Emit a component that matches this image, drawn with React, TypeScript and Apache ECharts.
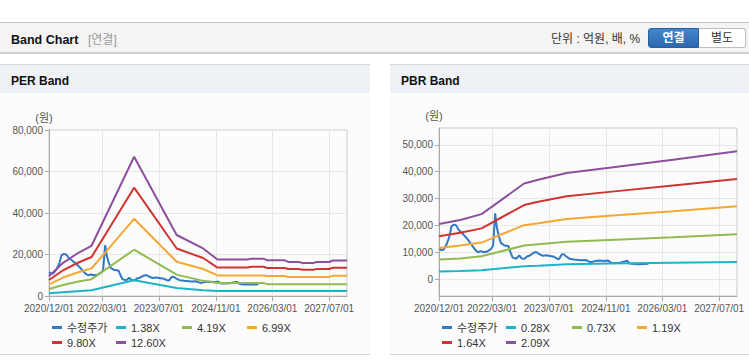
import React, { useEffect, useRef } from 'react';
import * as echarts from 'echarts';

const FONT = '"Liberation Sans", Arial, "Noto Sans CJK KR", sans-serif';

// x axis
const X_MIN = '2020/12/01';
const X_MAX = '2027/12/01';
const X_LABELS = ['2020/12/01', '2022/03/01', '2023/07/01', '2024/11/01', '2026/03/01', '2027/07/01'];

// adjusted price (shared by both charts)
const PRICE_NAME = '수정주가';
const PRICE_DATES = [
  '2020-12-03', '2020-12-20', '2021-01-10', '2021-02-05', '2021-03-01', '2021-03-18', '2021-04-07', '2021-04-28',
  '2021-05-20', '2021-06-20', '2021-07-15', '2021-08-15', '2021-09-15', '2021-10-10', '2021-11-01', '2021-11-25',
  '2021-12-20', '2022-01-20', '2022-02-20', '2022-03-10', '2022-03-28', '2022-04-10', '2022-04-25', '2022-05-15',
  '2022-06-15', '2022-07-20', '2022-08-10', '2022-08-25', '2022-09-25', '2022-10-20', '2022-11-10', '2022-12-05',
  '2022-12-25', '2023-01-20', '2023-02-20', '2023-03-15', '2023-04-10', '2023-05-10', '2023-06-10', '2023-07-15',
  '2023-08-15', '2023-09-10', '2023-09-25', '2023-10-20', '2023-11-05', '2023-11-25', '2023-12-25', '2024-02-01',
  '2024-04-01', '2024-05-15', '2024-06-20', '2024-08-01', '2024-09-10', '2024-10-15', '2024-11-20', '2024-12-20',
  '2025-01-20', '2025-03-01', '2025-04-10', '2025-05-01', '2025-05-25', '2025-07-01', '2025-08-15', '2025-10-01',
  '2025-11-01',
];
const PRICE = [
  11600, 10700, 11000, 13000, 16000, 19600, 20300, 20000,
  18300, 17000, 15800, 14200, 12300, 10800, 10000, 10400,
  10000, 10300, 11200, 12500, 24500, 19500, 16500, 13500,
  12500, 12300, 9500, 8000, 7600, 8800, 7700, 7600,
  8400, 8800, 9800, 10100, 9300, 8700, 8900, 8600,
  8300, 7600, 7400, 9200, 9300, 8500, 7600, 7300,
  7000, 7100, 6300, 6700, 6900, 6700, 6900, 6000,
  6000, 6100, 6600, 6800, 5800, 5600, 5500, 5600,
  5700,
];

// PER band
const PER_NAMES = ['1.38X', '4.19X', '6.99X', '9.80X', '12.60X'];
const PER_DATES = [
  '2020-12-01', '2021-04-01', '2021-08-01', '2021-12-01', '2022-12-01', '2023-12-01', '2024-07-15',
  '2024-11-15', '2025-08-01', '2025-09-01', '2025-12-15', '2026-01-15', '2026-06-15', '2026-07-15',
  '2026-10-15', '2026-11-15', '2027-02-15', '2027-03-15', '2027-07-01', '2027-08-01', '2027-12-01',
];
const PER_1_38 = [1300, 1800, 2300, 2800, 7600, 3900, 2800, 2400, 2400, 2400, 2400, 2400, 2400, 2400, 2400, 2400, 2400, 2400, 2400, 2400, 2400];
const PER_4_19 = [3400, 5300, 6900, 8100, 22300, 10300, 7300, 6300, 6300, 6300, 6300, 5700, 5700, 5700, 5700, 5700, 5700, 5700, 5700, 5700, 5700];
const PER_6_99 = [5600, 8900, 11300, 13300, 37200, 16500, 13000, 9900, 9900, 9900, 9900, 9600, 9600, 9200, 9200, 9200, 9200, 9200, 9200, 9700, 9700];
const PER_9_80 = [7700, 12400, 15900, 18800, 52200, 22900, 18300, 13700, 13700, 14100, 14100, 13500, 13500, 13000, 13000, 12600, 12600, 13000, 13000, 13600, 13600];
const PER_12_60 = [9500, 16000, 20500, 24200, 67100, 29400, 22900, 17600, 17600, 18000, 18000, 17200, 17200, 16400, 16400, 15900, 15900, 16400, 16400, 17100, 17100];
const PER_Y_MIN = 0;
const PER_Y_MAX = 80000;
const PER_Y_TICKS = [0, 20000, 40000, 60000, 80000];

// PBR band
const PBR_NAMES = ['0.28X', '0.73X', '1.19X', '1.64X', '2.09X'];
const PBR_DATES = ['2020-12-01', '2021-06-01', '2021-12-01', '2022-12-01', '2023-04-01', '2023-12-01', '2024-12-01', '2026-06-01', '2027-12-01'];
const PBR_0_28 = [2850, 3000, 3300, 4800, 5000, 5500, 5800, 6100, 6400];
const PBR_0_73 = [7300, 7700, 8500, 12500, 13000, 13900, 14600, 15600, 16700];
const PBR_1_19 = [11600, 12500, 13600, 20100, 20800, 22400, 23600, 25300, 27100];
const PBR_1_64 = [16000, 17300, 18900, 27600, 28800, 30900, 32500, 34900, 37300];
const PBR_2_09 = [20500, 22000, 24200, 35600, 37000, 39500, 41500, 44500, 47600];
const PBR_Y_MIN = -6300;
const PBR_Y_MAX = 56300;
const PBR_Y_TICKS = [0, 10000, 20000, 30000, 40000, 50000];

const COLORS = ['#3179c6', '#1db4c9', '#8fbb50', '#f5a735', '#d03430', '#8e4f9e'];

function toTs(s: string): number {
  const [y, m, d] = s.split(/[-/]/).map(Number);
  return Date.UTC(y, m - 1, d);
}
function fmtDate(v: number): string {
  const d = new Date(v);
  const p = (n: number) => String(n).padStart(2, '0');
  return `${d.getUTCFullYear()}/${p(d.getUTCMonth() + 1)}/${p(d.getUTCDate())}`;
}

type Cfg = {
  names: string[];
  dates: string[];
  bands: number[][];
  yMin: number;
  yMax: number;
  yTicks: number[];
  gridTop: number;
  gridRight: number;
};

function buildOption(cfg: Cfg): any {
  const names = [PRICE_NAME, ...cfg.names];
  const cols = [53, 117, 183, 248];
  const legends = names.map((n, i) => ({
    data: [n],
    left: cols[i % 4] - 1,
    top: i < 4 ? 229 : 244,
    padding: 0,
    icon: 'rect',
    itemWidth: 10,
    itemHeight: 3,
    itemGap: 0,
    selectedMode: false,
    textStyle: { fontSize: 11, color: '#333', fontFamily: FONT },
  }));
  const xTicks = X_LABELS.map(toTs);
  const series: any[] = [
    {
      type: 'line',
      name: PRICE_NAME,
      data: PRICE_DATES.map((d, i) => [toTs(d), PRICE[i]]),
      symbol: 'none',
      showSymbol: false,
      lineStyle: { width: 2, color: COLORS[0] },
      itemStyle: { color: COLORS[0] },
      z: 2,
    },
    ...cfg.names.map((n, k) => ({
      type: 'line',
      name: n,
      data: cfg.dates.map((d, i) => [toTs(d), cfg.bands[k][i]]),
      symbol: 'none',
      showSymbol: false,
      lineStyle: { width: 2, color: COLORS[k + 1] },
      itemStyle: { color: COLORS[k + 1] },
      z: 2,
    })),
  ];
  return {
    animation: false,
    backgroundColor: 'transparent',
    textStyle: { fontFamily: FONT },
    legend: legends,
    grid: {
      left: 49,
      right: cfg.gridRight,
      top: cfg.gridTop,
      bottom: 58,
      show: true,
      borderColor: '#c9c9c9',
      borderWidth: 1,
      backgroundColor: 'transparent',
      containLabel: false,
      outerBoundsMode: 'none',
    },
    xAxis: {
      type: 'value',
      min: toTs(X_MIN),
      max: toTs(X_MAX),
      scale: true,
      axisLine: { show: true, onZero: false, lineStyle: { color: '#a9a9a9', width: 1 } },
      axisTick: { show: true, length: 5, lineStyle: { color: '#a9a9a9' }, customValues: xTicks },
      axisLabel: {
        customValues: xTicks,
        formatter: (v: number) => fmtDate(v),
        color: '#555',
        fontSize: 10,
        fontFamily: FONT,
        margin: 7,
        hideOverlap: false,
      },
      splitLine: { show: true, lineStyle: { color: '#e7e7e7', width: 1 } },
      minorTick: { show: false },
    },
    yAxis: {
      type: 'value',
      min: cfg.yMin,
      max: cfg.yMax,
      name: '(원)',
      nameLocation: 'end',
      nameGap: 7,
      nameTextStyle: { color: '#555', fontSize: 11, fontFamily: FONT, padding: [0, 10, 0, 0] },
      axisLine: { show: true, onZero: false, lineStyle: { color: '#a9a9a9', width: 1 } },
      axisTick: { show: true, length: 4, lineStyle: { color: '#a9a9a9' }, customValues: cfg.yTicks },
      axisLabel: {
        customValues: cfg.yTicks,
        formatter: (v: number) => v.toLocaleString('en-US'),
        color: '#555',
        fontSize: 10,
        fontFamily: FONT,
        margin: 6,
      },
      splitLine: { show: true, lineStyle: { color: '#e7e7e7', width: 1 } },
    },
    series,
  };
}

function Chart({ cfg, style }: { cfg: Cfg; style: React.CSSProperties }) {
  const ref = useRef<HTMLDivElement>(null);
  useEffect(() => {
    if (!ref.current) return;
    const chart = echarts.init(ref.current, undefined, { renderer: 'svg' });
    chart.setOption(buildOption(cfg));
    return () => chart.dispose();
  }, []);
  return <div ref={ref} style={style} />;
}

const perCfg: Cfg = {
  names: PER_NAMES,
  dates: PER_DATES,
  bands: [PER_1_38, PER_4_19, PER_6_99, PER_9_80, PER_12_60],
  yMin: PER_Y_MIN,
  yMax: PER_Y_MAX,
  yTicks: PER_Y_TICKS,
  gridTop: 37,
  gridRight: 23,
};
const pbrCfg: Cfg = {
  names: PBR_NAMES,
  dates: PBR_DATES,
  bands: [PBR_0_28, PBR_0_73, PBR_1_19, PBR_1_64, PBR_2_09],
  yMin: PBR_Y_MIN,
  yMax: PBR_Y_MAX,
  yTicks: PBR_Y_TICKS,
  gridTop: 35,
  gridRight: 12,
};

const abs = (o: React.CSSProperties): React.CSSProperties => ({ position: 'absolute', ...o });

function Panel({ left, width, title, cfg }: { left: number; width: number; title: string; cfg: Cfg }) {
  return (
    <>
      <div style={abs({ left, top: 64, width, height: 28, background: '#eef1f6', borderTop: '1px solid #d6d6d6' })} />
      <div style={abs({ left: left + 11, top: 73, height: 16, lineHeight: '16px', fontSize: 12, fontWeight: 700, color: '#111', whiteSpace: 'nowrap' })}>{title}</div>
      <div style={abs({ left, top: 93, width, height: 261, background: '#fcfcfc', borderBottom: '1px solid #d6d6d6' })} />
      <Chart cfg={cfg} style={{ position: 'absolute', left, top: 93, width, height: 261 }} />
    </>
  );
}

export default function App() {
  return (
    <div style={abs({ left: 0, top: 0, width: 749, height: 364, background: '#fff', overflow: 'hidden', fontFamily: FONT })}>
      <div style={abs({ left: 0, top: 22, width: 749, height: 29, background: '#f4f4f4', borderTop: '1px solid #c3c3c3', borderBottom: '2px solid #d2d2d2' })} />
      <div style={abs({ left: 11, top: 32, height: 16, lineHeight: '16px', fontSize: 12.5, fontWeight: 700, color: '#111', whiteSpace: 'nowrap' })}>Band Chart</div>
      <div style={abs({ left: 88, top: 32, height: 16, lineHeight: '16px', fontSize: 12, color: '#999', whiteSpace: 'nowrap' })}>[연결]</div>
      <div style={abs({ left: 551, top: 31, height: 16, lineHeight: '16px', fontSize: 12, color: '#333', whiteSpace: 'nowrap' })}>단위 : 억원, 배, %</div>
      <div style={abs({ left: 648, top: 28, width: 49, height: 18, lineHeight: '18px', textAlign: 'center', fontSize: 12, fontWeight: 700, color: '#fff', background: 'linear-gradient(#4386cc, #2b68ae)', border: '1px solid #2a5f9f', borderRadius: '3px 0 0 3px' })}>연결</div>
      <div style={abs({ left: 699, top: 28, width: 46, height: 18, lineHeight: '18px', textAlign: 'center', fontSize: 12, color: '#333', background: '#fff', border: '1px solid #bdbdbd', borderLeft: 'none', borderRadius: '0 3px 3px 0' })}>별도</div>
      <Panel left={0} width={370} title="PER Band" cfg={perCfg} />
      <Panel left={390} width={359} title="PBR Band" cfg={pbrCfg} />
    </div>
  );
}
